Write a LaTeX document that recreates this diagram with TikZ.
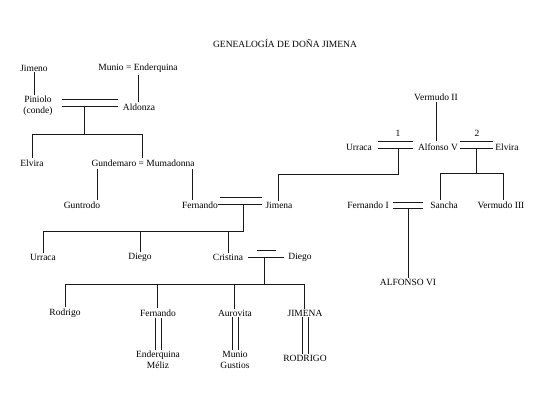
\documentclass[tikz,border=0pt]{standalone}
\usepackage{fontspec}
\setmainfont{Liberation Serif}
\begin{document}
\begin{tikzpicture}[x=1pt,y=-1pt,
  every node/.style={font=\fontsize{9.5}{11}\selectfont, inner sep=1pt, text=black},
  ln/.style={line width=0.75pt, black!90}]
\useasboundingbox (0,0) rectangle (550,413);
% title
\node (title) at (285,43) {\fontsize{9.5}{11}\selectfont GENEALOGÍA DE DOÑA JIMENA};
% generation 1
\node (jimeno) at (34,68) {Jimeno};
\node (munio) at (138,68) {Munio = Enderquina};
\node[align=center] (piniolo) at (38,106) {Piniolo\\(conde)};
\node (aldonza) at (139,107) {Aldonza};
\node (elvira1) at (32,163) {Elvira};
\node (gm) at (143,163) {Gundemaro = Mumadonna};
\node (guntrodo) at (82,205) {Guntrodo};
\node (fernando1) at (200,205) {Fernando};
\node (jimena1) at (279,205) {Jimena};
% right branch
\node (vermudo2) at (436,97) {Vermudo II};
\node (urraca1) at (359,147) {Urraca};
\node (alfonso5) at (438,147) {Alfonso V};
\node (elvira2) at (507,147) {Elvira};
\node (one) at (398,133) {1};
\node (two) at (477,133) {2};
\node (fernandoI) at (368,205) {Fernando I};
\node (sancha) at (444,205) {Sancha};
\node (vermudo3) at (501,205) {Vermudo III};
\node (alfonso6) at (408,282) {ALFONSO VI};
% children of Fernando and Jimena
\node (urraca2) at (43,257) {Urraca};
\node (diego1) at (140,257) {Diego};
\node (cristina) at (228,257) {Cristina};
\node (diego2) at (300,257) {Diego};
\node (rodrigo) at (65,313) {Rodrigo};
\node (fernando2) at (158,313) {Fernando};
\node (aurovita) at (235,313) {Aurovita};
\node (jimena2) at (305,313) {JIMENA};
\node[align=center] (enderquina) at (158,360) {Enderquina\\Méliz};
\node[align=center] (munio2) at (235,360) {Munio\\Gustios};
\node (rodrigo2) at (305,358) {RODRIGO};

% ---- connectors ----
\draw[ln] (jimeno.south) -- (jimeno.south |- piniolo.north);
\coordinate (ma) at (138,75);
\draw[ln] (ma) -- (ma |- aldonza.north);
% Piniolo = Aldonza
\coordinate (pa1) at (62,99); \coordinate (pa2) at (118,99);
\coordinate (pb1) at (62,106); \coordinate (pb2) at (118,106);
\draw[ln] (pa1) -- (pa2); \draw[ln] (pb1) -- (pb2);
\coordinate (pd) at (84,106); \coordinate (pj) at (84,134);
\coordinate (pl) at (32,134); \coordinate (pr) at (142,134);
\draw[ln, line width=1pt] (pd) -- (pj);
\draw[ln] (pl) -- (pr);
\draw[ln] (pl) -- (pl |- elvira1.north);
\draw[ln] (pr) -- (pr |- gm.north);
% Gundemaro = Mumadonna children
\coordinate (gd) at (97,169); \coordinate (md) at (192,169);
\draw[ln] (gd) -- (gd |- guntrodo.north);
\draw[ln] (md) -- (md |- fernando1.north);
% Fernando = Jimena
\coordinate (fa1) at (220,197); \coordinate (fa2) at (262,197);
\coordinate (fb1) at (218,204); \coordinate (fb2) at (262,204);
\draw[ln] (fa1) -- (fa2); \draw[ln] (fb1) -- (fb2);
% Urraca = Alfonso V = Elvira
\draw[ln] (vermudo2.south) -- (vermudo2.south |- 0,141);
\coordinate (ua1) at (378,141); \coordinate (ua2) at (413,141);
\coordinate (ub1) at (378,148); \coordinate (ub2) at (413,148);
\draw[ln] (ua1) -- (ua2); \draw[ln] (ub1) -- (ub2);
\coordinate (ea1) at (460,141); \coordinate (ea2) at (493,141);
\coordinate (eb1) at (460,148); \coordinate (eb2) at (493,148);
\draw[ln] (ea1) -- (ea2); \draw[ln] (eb1) -- (eb2);
% Urraca + Alfonso -> Jimena
\coordinate (ud) at (398,148); \coordinate (uc) at (398,174); \coordinate (jc) at (278,174);
\draw[ln] (ud) -- (uc) -- (jc) -- (jc |- jimena1.north);
% Alfonso + Elvira -> Sancha, Vermudo III
\coordinate (ed) at (476,148); \coordinate (ej) at (476,173);
\coordinate (el) at (440,173); \coordinate (er) at (503,173);
\draw[ln] (ed) -- (ej);
\draw[ln] (el) -- (er);
\draw[ln] (el) -- (el |- sancha.north);
\draw[ln] (er) -- (er |- vermudo3.north);
% Fernando I = Sancha
\coordinate (sa1) at (393,202); \coordinate (sa2) at (423,202);
\coordinate (sb1) at (393,208); \coordinate (sb2) at (423,208);
\draw[ln] (sa1) -- (sa2); \draw[ln] (sb1) -- (sb2);
\coordinate (sd) at (408,208);
\draw[ln] (sd) -- (sd |- alfonso6.north);
% Fernando + Jimena -> children
\coordinate (fd) at (243,204); \coordinate (fj) at (243,231);
\coordinate (c1) at (43,231); \coordinate (c2) at (140,231); \coordinate (c3) at (228,231);
\draw[ln] (fd) -- (fj) -- (c1);
\draw[ln] (c1) -- (c1 |- urraca2.north);
\draw[ln] (c2) -- (c2 |- diego1.north);
\draw[ln] (c3) -- (c3 |- cristina.north);
% Cristina = Diego
\coordinate (ca1) at (257,250); \coordinate (ca2) at (276,250);
\coordinate (cb1) at (248,257); \coordinate (cb2) at (284,257);
\draw[ln] (ca1) -- (ca2); \draw[ln] (cb1) -- (cb2);
\coordinate (cd) at (264,257); \coordinate (cj) at (264,284);
\coordinate (k1) at (65,284); \coordinate (k2) at (157,284); \coordinate (k3) at (234,284); \coordinate (k4) at (304,284);
\draw[ln] (cd) -- (cj);
\draw[ln] (k1) -- (k4);
\draw[ln] (k1) -- (k1 |- rodrigo.north);
\draw[ln] (k2) -- (k2 |- fernando2.north);
\draw[ln] (k3) -- (k3 |- aurovita.north);
\draw[ln] (k4) -- (k4 |- jimena2.north);
% marriages (double vertical)
\foreach \a/\b in {fernando2/enderquina, aurovita/munio2, jimena2/rodrigo2}{
  \draw[ln] ([xshift=-3pt]\a.south) -- ([xshift=-3pt]\a.south |- \b.north);
  \draw[ln] ([xshift=3pt]\a.south) -- ([xshift=3pt]\a.south |- \b.north);
}
\end{tikzpicture}
\end{document}
